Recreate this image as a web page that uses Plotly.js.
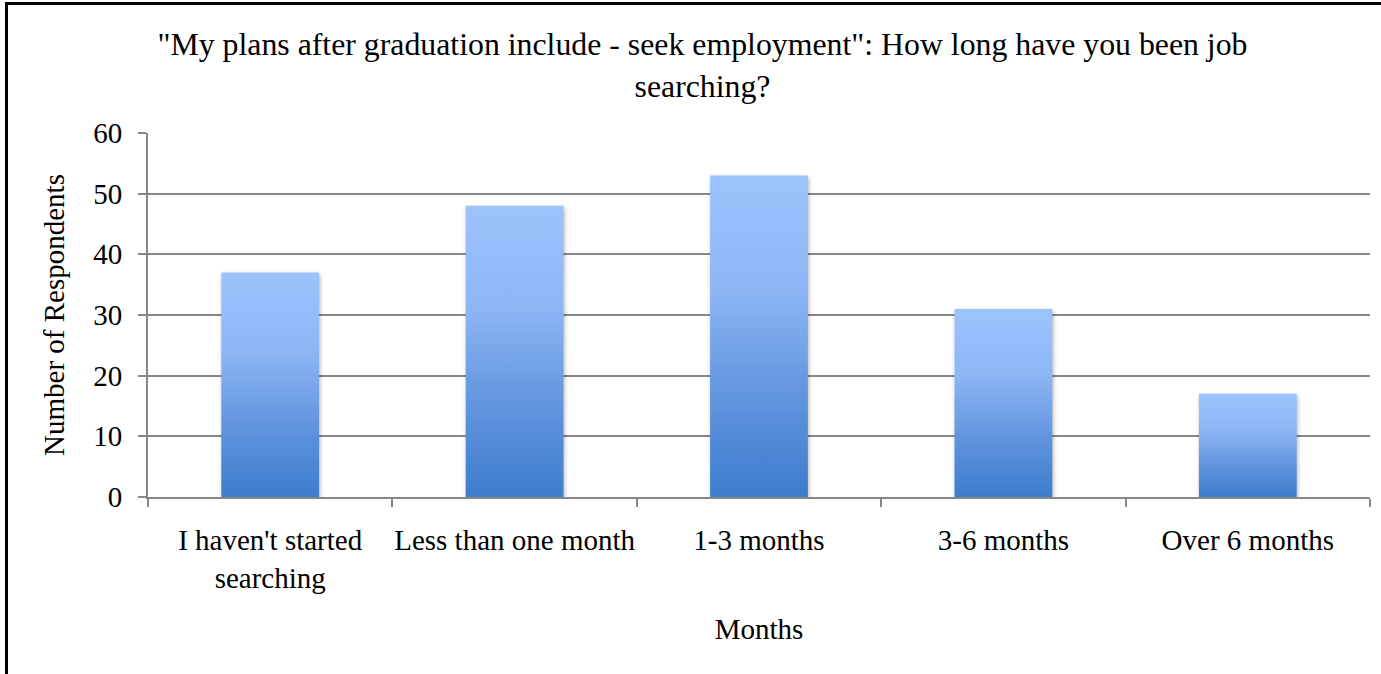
<!DOCTYPE html>
<html>
<head>
<meta charset="utf-8">
<script src="https://cdn.plot.ly/plotly-3.0.1.min.js"></script>
<style>
html, body { margin: 0; padding: 0; background: #fff; overflow: hidden; }
#chart { width: 1381px; height: 674px; }
#frame { position: absolute; left: 5px; top: 2px; width: 1400px; height: 700px;
  border-left: 3px solid #000; border-top: 3px solid #000; pointer-events: none; }
</style>
</head>
<body>
<div id="chart"></div>
<div id="frame"></div>
<script>
const categories = ["I haven't started<br>searching", "Less than one month", "1-3 months", "3-6 months", "Over 6 months"];
const respondents = [37, 48, 53, 31, 17];
const yTicks = [0, 10, 20, 30, 40, 50, 60];

const FONT = "'Liberation Serif', 'Times New Roman', serif";

const trace = {
  type: 'bar',
  x: categories,
  y: respondents,
  marker: { color: '#6a9de3', line: { width: 0 } },
  hoverinfo: 'x+y'
};

const layout = {
  width: 1381,
  height: 674,
  margin: { l: 148, r: 11, t: 133, b: 177 },
  paper_bgcolor: '#ffffff',
  plot_bgcolor: '#ffffff',
  bargap: 0.6,
  showlegend: false,
  font: { family: FONT, color: '#000', size: 29 },
  title: {
    text: '"My plans after graduation include - seek employment": How long have you been job<br>searching?',
    font: { family: FONT, size: 31.8, color: '#000' },
    x: 0.5087, xref: 'container', xanchor: 'center',
    y: 0.918, yref: 'container', yanchor: 'top'
  },
  xaxis: {
    type: 'category',
    showline: true, linecolor: '#878787', linewidth: 2,
    ticks: 'outside', tickson: 'boundaries', ticklen: 8, tickwidth: 2, tickcolor: '#878787',
    showgrid: false,
    tickangle: 0,
    ticklabelstandoff: 16,
    tickfont: { family: FONT, size: 29, color: '#000' },
    title: { text: 'Months', font: { family: FONT, size: 29, color: '#000' }, standoff: 26 }
  },
  yaxis: {
    range: [0, 60],
    tickvals: yTicks,
    ticktext: yTicks.map(String),
    showline: true, linecolor: '#878787', linewidth: 2,
    ticks: 'outside', ticklen: 8, tickwidth: 2, tickcolor: '#878787',
    showgrid: true, gridcolor: '#878787', gridwidth: 2,
    zeroline: false,
    ticklabelstandoff: 10,
    tickfont: { family: FONT, size: 29, color: '#000' },
    title: { text: 'Number of Respondents', font: { family: FONT, size: 29, color: '#000' }, standoff: 20 }
  }
};

Plotly.newPlot('chart', [trace], layout, { displayModeBar: false, staticPlot: true }).then(function (gd) {
  const svg = gd.querySelector('svg.main-svg');
  const NS = 'http://www.w3.org/2000/svg';
  let defs = svg.querySelector('defs');
  if (!defs) { defs = document.createElementNS(NS, 'defs'); svg.insertBefore(defs, svg.firstChild); }
  const grad = document.createElementNS(NS, 'linearGradient');
  grad.setAttribute('id', 'barGrad');
  grad.setAttribute('x1', '0'); grad.setAttribute('y1', '0');
  grad.setAttribute('x2', '0'); grad.setAttribute('y2', '1');
  [['0', '#9dc3fd'], ['0.35', '#8db6f4'], ['0.7', '#5f93dd'], ['1', '#3c7dcc']].forEach(function (s) {
    const st = document.createElementNS(NS, 'stop');
    st.setAttribute('offset', s[0]);
    st.setAttribute('stop-color', s[1]);
    grad.appendChild(st);
  });
  defs.appendChild(grad);
  gd.querySelectorAll('.barlayer path').forEach(function (p) {
    p.style.fill = 'url(#barGrad)';
    p.style.filter = 'drop-shadow(1px 2px 2px rgba(0,0,0,0.3))';
  });
});
</script>
</body>
</html>
